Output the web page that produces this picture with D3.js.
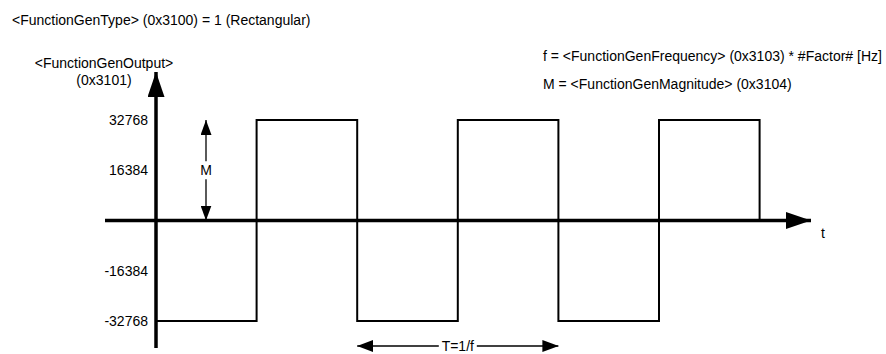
<!DOCTYPE html>
<html>
<head>
<meta charset="utf-8">
<script src="https://cdn.jsdelivr.net/npm/d3@7"></script>
<style>
  body { margin: 0; background: #fff; }
  text { font-family: "Liberation Sans", Arial, sans-serif; font-size: 14px; fill: #000; }
</style>
</head>
<body>
<div id="chart"></div>
<script>
// values
let yTicks = [32768, 16384, -16384, -32768];
let waveT = [0, 1, 2, 3, 4, 5, 6];                 // half periods
let waveV = [-32768, 32768, -32768, 32768, -32768, 32768, 0];
let title = "<FunctionGenType> (0x3100) = 1 (Rectangular)";
let yLabel = ["<FunctionGenOutput>", "(0x3101)"];
let notes = ["f = <FunctionGenFrequency> (0x3103) * #Factor# [Hz]", "M = <FunctionGenMagnitude> (0x3104)"];

let W = 886, H = 354;
let svg = d3.select("#chart").append("svg").attr("width", W).attr("height", H);

let x = d3.scaleLinear().domain([0, 6]).range([156, 759.6]);
let y = d3.scaleLinear().domain([-32768, 32768]).range([321, 120]);

// arrow heads
let defs = svg.append("defs");
let head = (id, w, h) => {
  defs.append("marker").attr("id", id)
    .attr("viewBox", `0 0 ${w} ${h}`).attr("refX", w).attr("refY", h/2)
    .attr("markerWidth", w).attr("markerHeight", h)
    .attr("markerUnits", "userSpaceOnUse").attr("orient", "auto-start-reverse")
    .append("path").attr("d", `M0,0L${w},${h/2}L0,${h}Z`).attr("fill", "#000");
};
head("big", 25, 17);
head("small", 15, 11);
head("mid", 16, 12);

// square wave
let pts = waveT.map((t, i) => [t, waveV[i]]);
svg.append("path")
  .attr("d", d3.line().x(d => x(d[0])).y(d => y(d[1])).curve(d3.curveStepAfter)(pts))
  .attr("fill", "none").attr("stroke", "#000").attr("stroke-width", 2);

// axes
svg.append("line").attr("x1", 105).attr("x2", 811).attr("y1", y(0)).attr("y2", y(0))
  .attr("stroke", "#000").attr("stroke-width", 3.5).attr("marker-end", "url(#big)");
svg.append("line").attr("x1", x(0)).attr("x2", x(0)).attr("y1", 348).attr("y2", 72)
  .attr("stroke", "#000").attr("stroke-width", 3.5).attr("marker-end", "url(#big)");

svg.selectAll(".tick").data(yTicks).enter().append("text")
  .attr("x", 148).attr("y", d => y(d)).attr("dy", "0.35em")
  .attr("text-anchor", "end").text(d => d);

svg.append("text").attr("x", 823).attr("y", 238).attr("text-anchor", "middle").text("t");

// M arrow
let mx = 206;
svg.append("line").attr("x1", mx).attr("x2", mx).attr("y1", y(0)).attr("y2", y(32768))
  .attr("stroke", "#000").attr("stroke-width", 1.3)
  .attr("marker-start", "url(#small)").attr("marker-end", "url(#small)");
svg.append("rect").attr("x", mx - 8).attr("y", y(16384) - 9).attr("width", 16).attr("height", 18).attr("fill", "#fff");
svg.append("text").attr("x", mx).attr("y", y(16384)).attr("dy", "0.35em").attr("text-anchor", "middle").text("M");

// T arrow
let ty = 346;
svg.append("line").attr("x1", x(2)).attr("x2", x(4)).attr("y1", ty).attr("y2", ty)
  .attr("stroke", "#000").attr("stroke-width", 1.3)
  .attr("marker-start", "url(#mid)").attr("marker-end", "url(#mid)");
svg.append("rect").attr("x", x(3) - 19).attr("y", ty - 8).attr("width", 38).attr("height", 16).attr("fill", "#fff");
svg.append("text").attr("x", x(3)).attr("y", ty).attr("dy", "0.35em").attr("text-anchor", "middle").text("T=1/f");

// texts
svg.append("text").attr("x", 12).attr("y", 25).text(title);
svg.append("text").attr("x", 104).attr("y", 68).attr("text-anchor", "middle").text(yLabel[0]);
svg.append("text").attr("x", 104).attr("y", 85).attr("text-anchor", "middle").text(yLabel[1]);
svg.selectAll(".note").data(notes).enter().append("text")
  .attr("x", 543).attr("y", (d, i) => 61 + i * 28).text(d => d);
</script>
</body>
</html>
